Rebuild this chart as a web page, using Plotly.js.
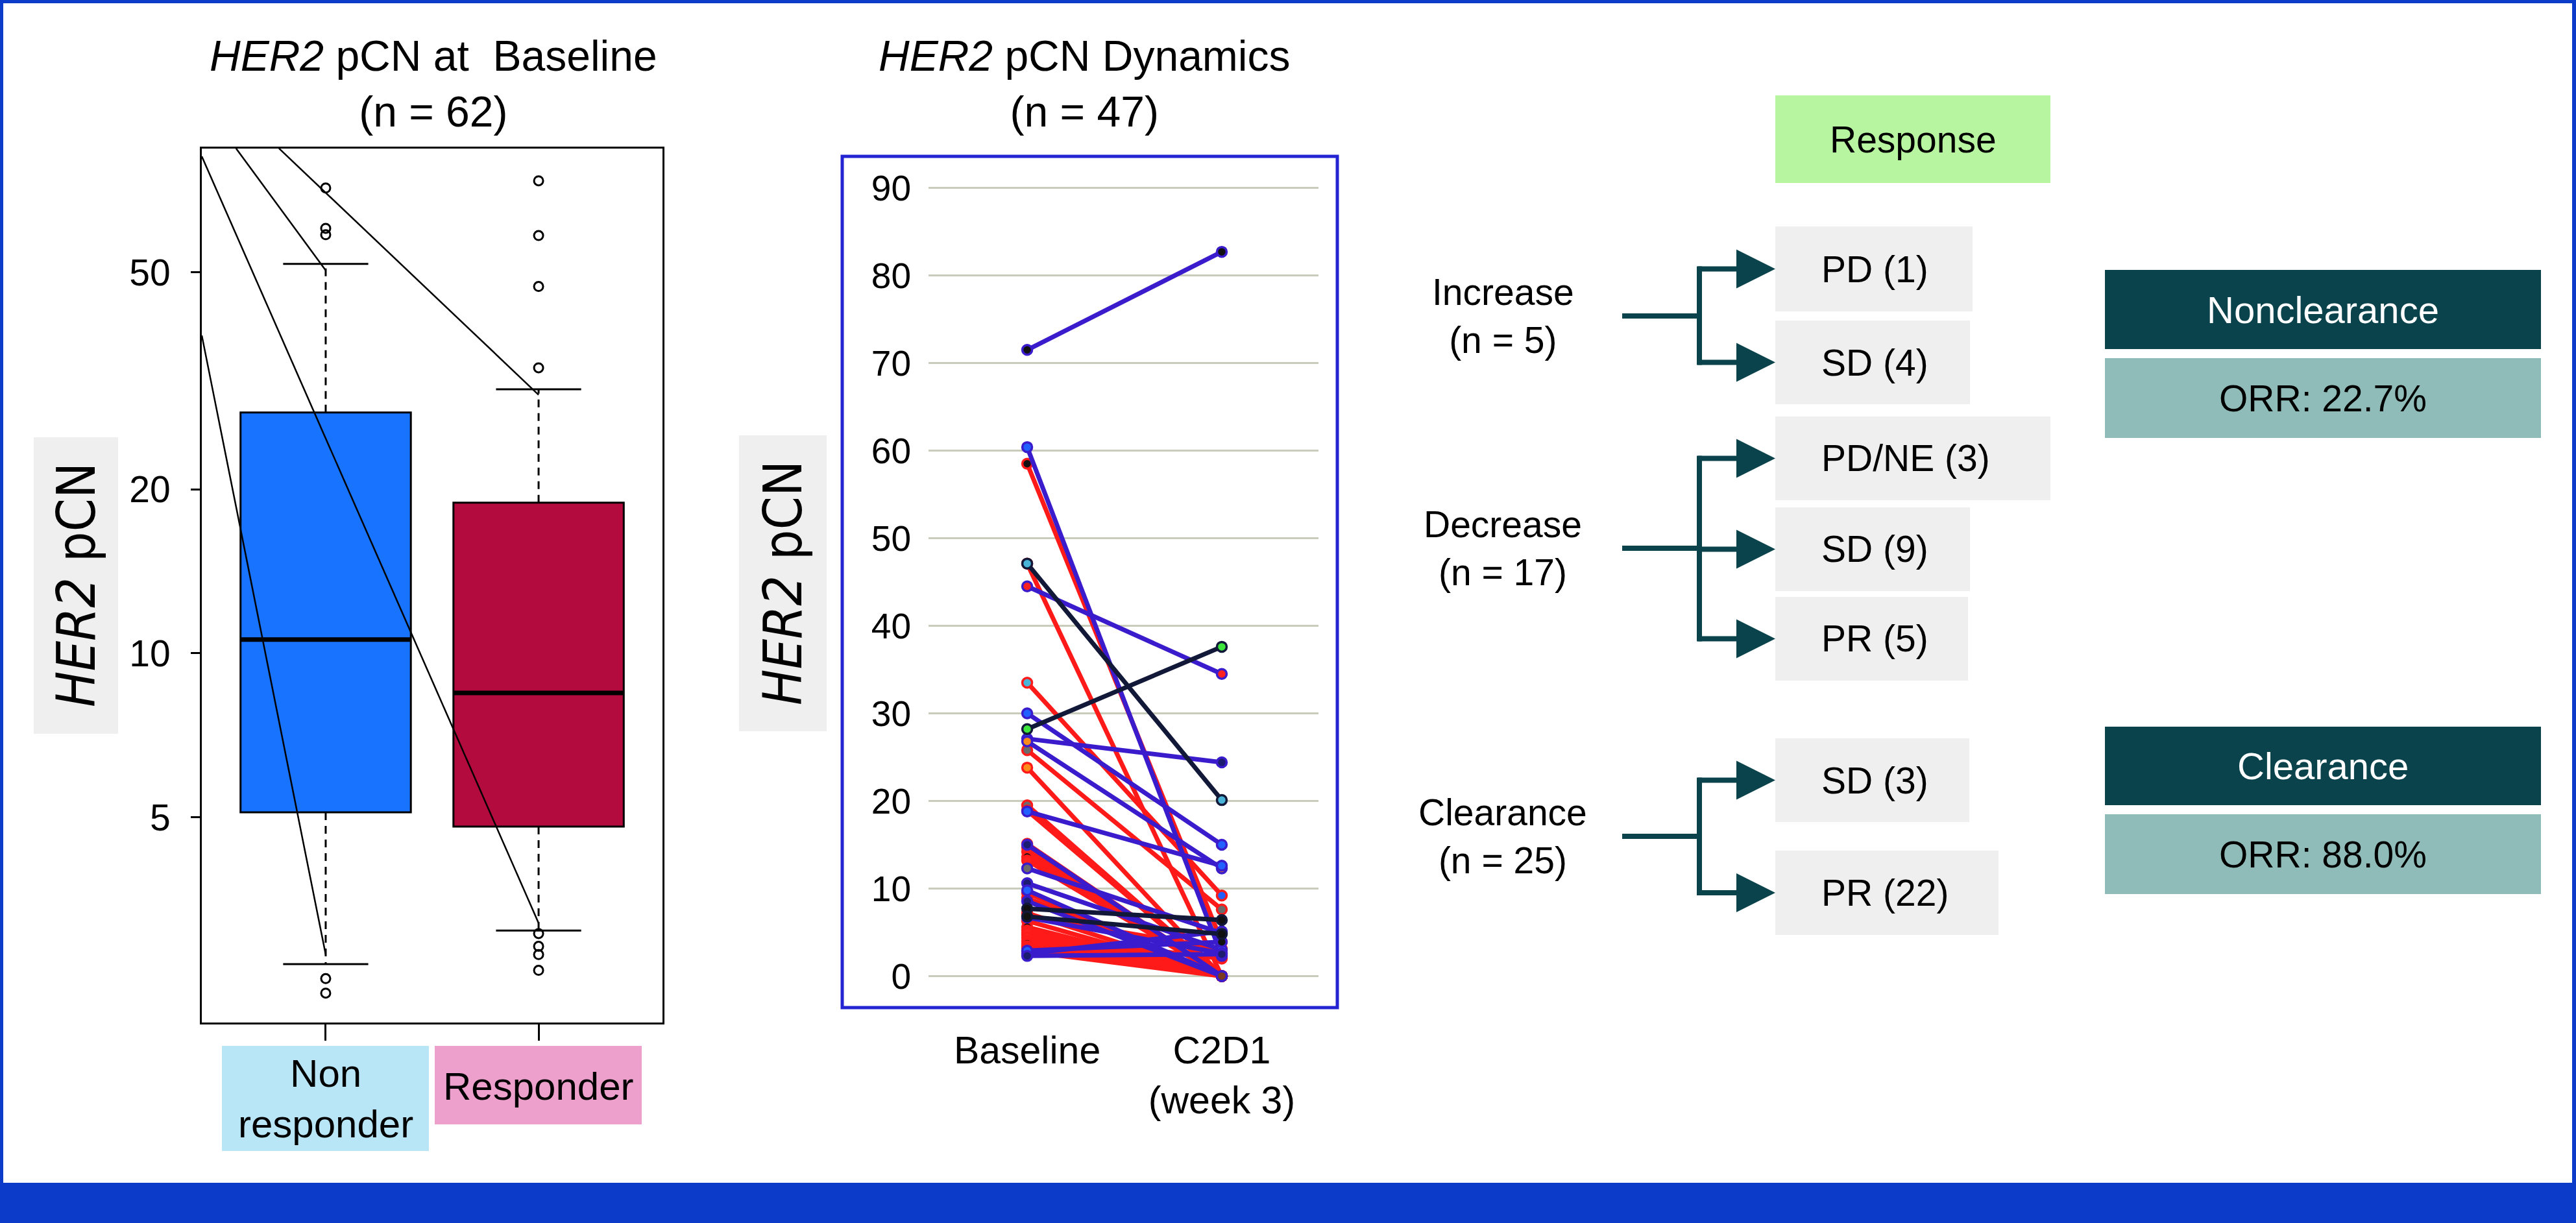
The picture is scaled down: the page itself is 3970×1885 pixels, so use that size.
<!DOCTYPE html>
<html><head><meta charset="utf-8">
<script src="https://cdn.plot.ly/plotly-3.0.1.min.js"></script>
<style>html,body{margin:0;padding:0;background:#fff;}#chart{width:3970px;height:1885px;}</style>
</head><body><div id="chart"></div>
<script>
// ---------------- DATA ----------------
// Panel A: HER2 pCN at baseline (box plot, log scale)
const boxGroups = ['Non<br>responder', 'Responder'];
const boxQ1 = [5.11, 4.81];
const boxMedian = [10.6, 8.46];
const boxQ3 = [27.65, 18.9];
const boxLowerFence = [2.69, 3.10];
const boxUpperFence = [51.8, 30.5];
const nonResponderOutliers = [71.4, 60.2, 58.6, 2.53, 2.38];
const responderOutliers = [73.6, 58.4, 47.1, 33.4, 3.06, 2.90, 2.80, 2.62];
const boxTickValues = [5, 10, 20, 50];
// thin connector lines drawn over panel A (start -> end, in axis units)
const connectorStartX = [-0.582, -0.421, -0.2195, -0.582];
const connectorStartY = [81.6, 84.4, 84.4, 38.3];
const connectorEndX = [1, 0, 1, 0];
const connectorEndY = [3.2, 50.4, 29.8, 2.8];

// Panel B: HER2 pCN dynamics (n = 47)
const timepoints = ['Baseline', 'C2D1<br>(week 3)'];
const pcnBaseline = [58.5, 33.5, 25.8, 6.85, 4.7, 47.1, 23.8, 19.5, 18.9, 15.1, 14.7, 14.2, 13.6, 13.2, 9.5, 8.9, 7.2, 6.3, 5.6, 5.2, 4.9, 4.4, 4.0, 3.7, 3.4, 3.2, 2.8,
  71.5, 60.4, 44.5, 30.0, 27.1, 26.8, 18.8, 12.3, 10.6, 6.7, 15.0, 9.8, 8.55, 2.55, 2.9, 2.3,
  28.2, 47.1, 7.7, 6.8];
const pcnC2D1 = [3.9, 9.2, 7.6, 3.1, 2.0, 0, 0, 0, 0, 0, 0, 0, 0, 0, 0, 0, 0, 0, 0, 0, 0, 0, 0, 0, 0, 0, 0,
  82.7, 2.3, 34.5, 15.0, 24.4, 12.3, 12.6, 4.9, 3.0, 2.6, 0, 0, 0, 5.1, 3.9, 2.5,
  37.6, 20.1, 6.4, 4.8];
const patientResponse = ['PR','PR','PR','PR','PR','PR','PR','PR','PR','PR','PR','PR','PR','PR','PR','PR','PR','PR','PR','PR','PR','PR','PR','PR','PR','PR','PR',
  'SD','SD','SD','SD','SD','SD','SD','SD','SD','SD','SD','SD','SD','SD','SD','SD',
  'PD','PD','PD','PD'];
const baselineDot = ['k','lb','gy','r','r','lb','or','gy','r','gr','br','r','k','r','b','r','r','r','k','r','r','r','r','k','r','r','r',
  'k','b','r','b','b','or','b','gy','nv','b','nv','b','nv','nv','b','nv',
  'gr','lb','k','k'];
const c2d1Dot = ['k','b','gy','r','r','br','br','br','br','br','br','br','br','br','br','br','br','br','br','br','br','br','br','br','br','br','br',
  'k','nv','r','b','nv','or','b','gy','b','b','br','br','br','gy','k','nv',
  'gr','lb','k','k'];

// Panel C: flow diagram
const changeGroups = ['Increase', 'Decrease', 'Clearance'];
const changeN = [5, 17, 25];
const responseLabels = ['PD', 'SD', 'PD/NE', 'SD', 'PR', 'SD', 'PR'];
const responseN = [1, 4, 3, 9, 5, 3, 22];
const responseGroup = [0, 0, 1, 1, 1, 2, 2];
const orrGroups = ['Nonclearance', 'Clearance'];
const orrValues = [22.7, 88.0];

// ---------------- STYLE / LAYOUT ----------------
const W = 3970, H = 1885;
const px = x => x / W;
const py = y => 1 - y / H;
const FONT = 'Liberation Sans, Arial, Helvetica, sans-serif';
const NARROW = 'Liberation Sans Narrow, Arial Narrow, DejaVu Sans Condensed, sans-serif';
const lineColors = {PR: '#ff1a1a', SD: '#3a1ccc', PD: '#121838'};
const dotColors = {k: '#111111', lb: '#4ab4d8', gy: '#6b6b6b', r: '#ff2020', or: '#ff8c1a', gr: '#3ce63c', br: '#7a3b1e', b: '#2160ff', nv: '#1c1c70'};
const boxFill = ['#1874fe', '#b30b3e'];
const teal = '#0a434b';

const traces = [];
// ---- Panel A traces
boxGroups.forEach((g, i) => {
  traces.push({type: 'box', x: [i], q1: [boxQ1[i]], median: [boxMedian[i]], q3: [boxQ3[i]],
    lowerfence: [boxQ1[i]], upperfence: [boxQ3[i]], width: 0.8, whiskerwidth: 0,
    fillcolor: boxFill[i], line: {color: '#000', width: 3}, boxpoints: false,
    xaxis: 'x', yaxis: 'y', hoverinfo: 'skip', showlegend: false});
  traces.push({type: 'scatter', mode: 'lines', x: [i - 0.4, i + 0.4], y: [boxMedian[i], boxMedian[i]],
    line: {color: '#000', width: 7}, xaxis: 'x', yaxis: 'y', hoverinfo: 'skip', showlegend: false});
  traces.push({type: 'scatter', mode: 'lines', x: [i, i, null, i, i], y: [boxQ3[i], boxUpperFence[i], null, boxQ1[i], boxLowerFence[i]],
    line: {color: '#000', width: 3, dash: '12px,9px'}, xaxis: 'x', yaxis: 'y', hoverinfo: 'skip', showlegend: false});
  traces.push({type: 'scatter', mode: 'lines', x: [i - 0.2, i + 0.2, null, i - 0.2, i + 0.2],
    y: [boxUpperFence[i], boxUpperFence[i], null, boxLowerFence[i], boxLowerFence[i]],
    line: {color: '#000', width: 3}, xaxis: 'x', yaxis: 'y', hoverinfo: 'skip', showlegend: false});
});
[nonResponderOutliers, responderOutliers].forEach((arr, i) => {
  traces.push({type: 'scatter', mode: 'markers', x: arr.map(() => i), y: arr,
    marker: {symbol: 'circle-open', size: 14, color: '#000', line: {width: 3, color: '#000'}},
    xaxis: 'x', yaxis: 'y', hoverinfo: 'skip', showlegend: false});
});
{
  const cx = [], cy = [];
  connectorStartX.forEach((s, k) => { cx.push(s, connectorEndX[k], null); cy.push(connectorStartY[k], connectorEndY[k], null); });
  traces.push({type: 'scatter', mode: 'lines', x: cx, y: cy, line: {color: '#000', width: 2.5},
    xaxis: 'x', yaxis: 'y', hoverinfo: 'skip', showlegend: false});
}
// ---- Panel B traces
pcnBaseline.forEach((b, k) => {
  const lc = lineColors[patientResponse[k]];
  traces.push({type: 'scatter', mode: 'lines+markers', x: [0, 1], y: [b, pcnC2D1[k]],
    line: {color: lc, width: 7},
    marker: {size: 15, color: [dotColors[baselineDot[k]], dotColors[c2d1Dot[k]]], line: {color: lc, width: 3.5}},
    xaxis: 'x2', yaxis: 'y2', hoverinfo: 'skip', showlegend: false});
});

// ---- shapes
const shapes = [];
const rect = (x0, y0, x1, y1, fill, line) => shapes.push({type: 'rect', xref: 'paper', yref: 'paper',
  x0: px(x0), x1: px(x1), y0: py(y1), y1: py(y0), fillcolor: fill, line: line || {width: 0}, layer: 'below'});
const seg = (x0, y0, x1, y1, color, w) => shapes.push({type: 'line', xref: 'paper', yref: 'paper',
  x0: px(x0), x1: px(x1), y0: py(y0), y1: py(y1), line: {color: color, width: w}});
rect(0, 0, W, 5, '#0b3bc8');
rect(0, 0, 5, 1823, '#0b3bc8');
rect(W - 6, 0, W, 1823, '#0b3bc8');
rect(0, 1823, W, H, '#0b3bc8');
rect(52, 674, 182, 1131, '#efefef');
rect(1139, 671, 1274, 1127, '#efefef');
rect(342, 1612, 661, 1774, '#b8e6f6');
rect(670, 1612, 989, 1733, '#eda0cc');
shapes.push({type: 'rect', xref: 'paper', yref: 'paper', x0: px(1298), x1: px(2061), y0: py(1553), y1: py(241),
  line: {color: '#2424d2', width: 5}, fillcolor: 'rgba(0,0,0,0)'});
rect(2736, 147, 3160, 282, '#b8f5a0');
const rowBox = [[349, 480, 3040], [494, 623, 3036], [642, 771, 3160], [782, 911, 3036], [920, 1049, 3033], [1138, 1267, 3035], [1311, 1441, 3080]];
rowBox.forEach(r => rect(2736, r[0], r[2], r[1], '#efefef'));
const orrBox = [[416, 538, 552, 675], [1120, 1241, 1255, 1378]];
orrBox.forEach(b => { rect(3244, b[0], 3916, b[1], teal); rect(3244, b[2], 3916, b[3], '#8fbcb8'); });
const groupY = [487, 845, 1289];
const barX = 2619, stubX = 2500, tipX = 2736;
changeGroups.forEach((g, gi) => {
  seg(stubX, groupY[gi], barX, groupY[gi], teal, 8);
  const ys = rowBox.filter((r, k) => responseGroup[k] === gi).map(r => (r[0] + r[1]) / 2);
  seg(barX, Math.min(...ys) - 4, barX, Math.max(...ys) + 4, teal, 8);
});

// ---- annotations
const ann = [];
const txt = (x, y, text, size, opts) => ann.push(Object.assign({xref: 'paper', yref: 'paper', x: px(x), y: py(y), text: text,
  showarrow: false, xanchor: 'center', yanchor: 'middle', font: {family: FONT, size: size, color: '#000'}}, opts || {}));
txt(668, 129, '<i>HER2</i> pCN at  Baseline<br>(n = 62)', 66);
txt(1671, 129, '<i>HER2</i> pCN Dynamics<br>(n = 47)', 66);
txt(117, 902, '<i>HER2</i> pCN', 82, {textangle: -90, font: {family: NARROW, size: 82, color: '#000'}});
txt(1206, 899, '<i>HER2</i> pCN', 82, {textangle: -90, font: {family: NARROW, size: 82, color: '#000'}});
txt(502, 1693, boxGroups[0], 60);
txt(830, 1674, boxGroups[1], 60);
txt(2948, 215, 'Response', 57);
changeGroups.forEach((g, gi) => txt(2316, groupY[gi], g + '<br>(n = ' + changeN[gi] + ')', 57));
responseLabels.forEach((l, k) => {
  const yc = (rowBox[k][0] + rowBox[k][1]) / 2;
  txt(2805, yc, l + ' (' + responseN[k] + ')', 57, {xanchor: 'left'});
  ann.push({xref: 'paper', yref: 'paper', x: px(tipX), y: py(yc), ax: -(tipX - barX + 4), ay: 0, text: '',
    showarrow: true, arrowhead: 2, arrowsize: 1.5, arrowwidth: 8, arrowcolor: teal, standoff: 0});
});
orrGroups.forEach((g, i) => {
  txt(3580, (orrBox[i][0] + orrBox[i][1]) / 2, g, 58, {font: {family: FONT, size: 58, color: '#ffffff'}});
  txt(3580, (orrBox[i][2] + orrBox[i][3]) / 2, 'ORR: ' + orrValues[i].toFixed(1) + '%', 57);
});

const layout = {
  width: W, height: H, margin: {l: 0, r: 0, t: 0, b: 0}, paper_bgcolor: '#ffffff', plot_bgcolor: 'rgba(0,0,0,0)',
  showlegend: false, font: {family: FONT, color: '#000'},
  xaxis: {domain: [px(311), px(1021)], range: [-0.582, 1.582], tickvals: [0, 1], ticktext: ['', ''],
    ticks: 'outside', ticklen: 25, tickwidth: 3, tickcolor: '#000', showline: true, linewidth: 3, linecolor: '#000',
    mirror: true, showgrid: false, zeroline: false, anchor: 'y'},
  yaxis: {domain: [py(1576), py(229)], type: 'log', range: [0.3226, 1.926], tickvals: boxTickValues,
    ticktext: boxTickValues.map(String), ticks: 'outside', ticklen: 14, tickwidth: 3, tickcolor: '#000',
    showline: true, linewidth: 3, linecolor: '#000', mirror: true, showgrid: false, zeroline: false,
    tickfont: {family: FONT, size: 57, color: '#000'}, ticklabelstandoff: 20, anchor: 'x'},
  xaxis2: {domain: [px(1431), px(2032)], range: [-0.507, 1.497], tickvals: [0, 1], ticktext: timepoints,
    ticks: '', showline: false, showgrid: false, zeroline: false, anchor: 'y2',
    tickfont: {family: FONT, size: 59, color: '#000'}, ticklabelstandoff: 26},
  yaxis2: {domain: [py(1553), py(241)], range: [-3.6, 93.6], tick0: 0, dtick: 10, ticks: '',
    showline: false, showgrid: true, gridcolor: '#c9cbbb', gridwidth: 3, zeroline: false, anchor: 'x2',
    tickfont: {family: FONT, size: 55, color: '#000'}, ticklabelstandoff: 26},
  shapes: shapes, annotations: ann
};
Plotly.newPlot('chart', traces, layout, {staticPlot: true, displayModeBar: false});
</script></body></html>
